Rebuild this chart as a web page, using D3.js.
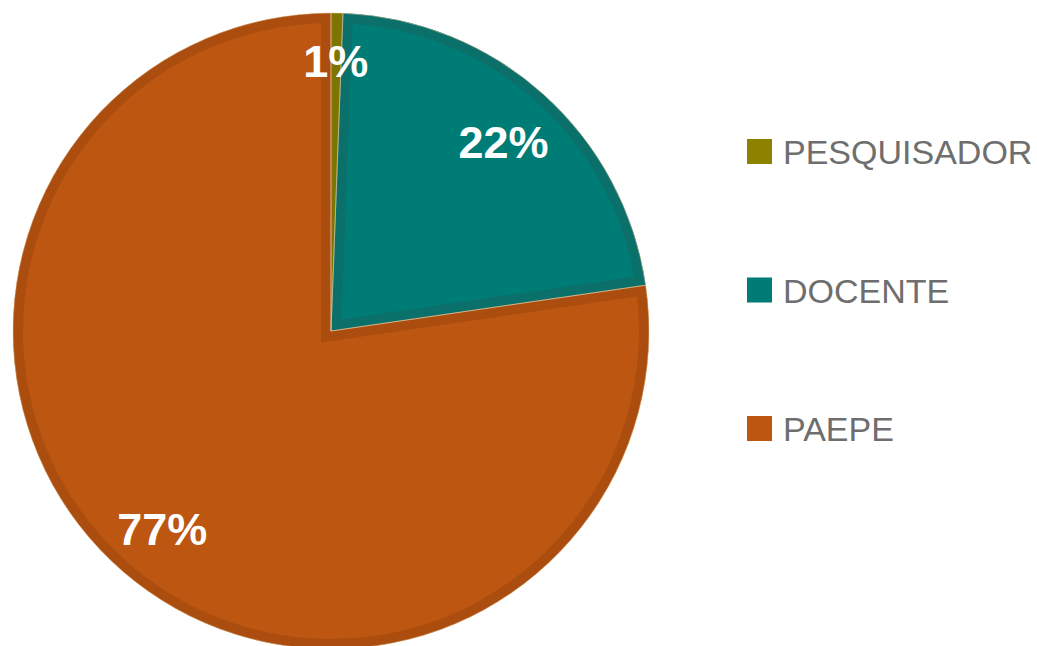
<!DOCTYPE html>
<html>
<head>
<meta charset="utf-8">
<script src="https://cdn.jsdelivr.net/npm/d3@7"></script>
<style>
  body { margin: 0; background: #fff; }
  svg { display: block; }
</style>
</head>
<body>
<svg id="chart" width="1037" height="646"></svg>
<script>
// chart data
const categories = ["PESQUISADOR", "DOCENTE", "PAEPE"];
const shares = [0.6, 22.1, 77.3];
const colors = ["#8c8200", "#007c77", "#bc5610"];
const bevels = ["#7e7500", "#0b6f6a", "#ab4d0f"];

const svg = d3.select("#chart");
const cx = 331, cy = 331, radius = 318;

const pie = d3.pie().sort(null).value(d => d)(shares);
const arc = d3.arc().innerRadius(0).outerRadius(radius);
const labelArc = d3.arc().innerRadius(258).outerRadius(258);
const total = d3.sum(shares);
const fmt = d3.format(".0%");

const defs = svg.append("defs");
const g = svg.append("g").attr("transform", "translate(" + cx + "," + cy + ")");

pie.forEach((p, i) => {
    defs.append("clipPath").attr("id", "clip" + i)
        .append("path").attr("d", arc(p));
    let sg = g.append("g");
    sg.append("path")
        .attr("d", arc(p))
        .attr("fill", colors[i]);
    // darker inner bevel
    sg.append("path")
        .attr("d", arc(p))
        .attr("fill", "none")
        .attr("stroke", bevels[i])
        .attr("stroke-width", 20)
        .attr("stroke-linejoin", "miter")
        .attr("clip-path", "url(#clip" + i + ")");
});

// thin light separator
g.selectAll(".sep")
    .data(pie)
    .enter()
    .append("path")
    .attr("class", "sep")
    .attr("d", d => arc(d))
    .attr("fill", "none")
    .attr("stroke", "#e6c9a0")
    .attr("stroke-opacity", 0.5)
    .attr("stroke-width", 1);

// percent labels
g.selectAll(".lbl")
    .data(pie)
    .enter()
    .append("text")
    .attr("class", "lbl")
    .attr("transform", d => {
        let c = labelArc.centroid(d);
        return "translate(" + c[0] + "," + c[1] + ")";
    })
    .attr("text-anchor", "middle")
    .attr("dy", (d, i) => i === 0 ? "0.08em" : "0.42em")
    .attr("font-family", "Liberation Sans, Arial, sans-serif")
    .attr("font-weight", "bold")
    .attr("font-size", 45)
    .attr("fill", "#ffffff")
    .text(d => fmt(d.data / total));

// legend
let legend = svg.append("g")
    .selectAll("g")
    .data(categories)
    .enter()
    .append("g")
    .attr("transform", (d, i) => "translate(747," + (139 + i * 138.5) + ")");

legend.append("rect")
    .attr("width", 25)
    .attr("height", 25)
    .attr("fill", (d, i) => colors[i]);

legend.append("text")
    .attr("x", 36)
    .attr("y", 25)
    .attr("font-family", "Liberation Sans, Arial, sans-serif")
    .attr("font-size", 34)
    .attr("fill", "#6e6e6e")
    .text(d => d);
</script>
</body>
</html>
